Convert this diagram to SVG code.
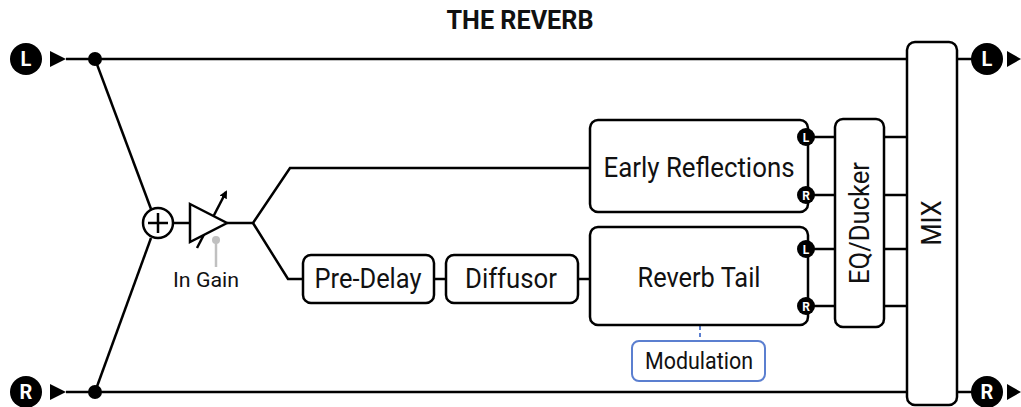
<svg xmlns="http://www.w3.org/2000/svg" width="1021" height="407" viewBox="0 0 1021 407">
<style>
.ln{stroke:#000;stroke-width:2.5;fill:none}
.box{stroke:#000;stroke-width:2.5;fill:#fff}
.t{font-family:Roboto,"Liberation Sans",sans-serif;fill:#111;text-anchor:middle}
.big{font-size:28px}
.badge{fill:#000}
.bl{font-family:Roboto,"Liberation Sans",sans-serif;font-weight:bold;fill:#fff;text-anchor:middle}
</style>
<defs>
<marker id="ah" markerWidth="8" markerHeight="8" refX="6" refY="4" orient="auto" markerUnits="userSpaceOnUse">
<path d="M0,0 L8,4 L0,8 z" fill="#000"/>
</marker>
</defs>
<rect width="1021" height="407" fill="#fff"/>
<text class="t" x="520" y="29" font-size="25" font-weight="bold" textLength="147" lengthAdjust="spacingAndGlyphs">THE REVERB</text>
<g id="connectors">
<path class="ln" d="M66,59 H907"/>
<path class="ln" d="M66,392 H907"/>
<path class="ln" d="M957,59 H972"/>
<path class="ln" d="M957,392 H972"/>
<path class="ln" d="M95,59 L151,209"/>
<path class="ln" d="M95,392 L151,238"/>
<path class="ln" d="M173,223 H190"/>
<path class="ln" d="M227,223 H253 L290,168 H590"/>
<path class="ln" d="M253,223 L288,279 H303"/>
<path class="ln" d="M434,279 H446"/>
<path class="ln" d="M578,279 H590"/>
<path class="ln" d="M806,137 H835 M806,195 H835 M806,249 H835 M806,306 H835"/>
<path class="ln" d="M884,137 H907 M884,195 H907 M884,249 H907 M884,306 H907"/>
<path d="M700,326 V341" stroke="#5b7fd0" stroke-width="2" stroke-dasharray="4,3" fill="none"/>
</g>
<g id="in-L">
<circle cx="26" cy="59" r="16" class="badge"/>
<text class="bl" x="26" y="66" font-size="20">L</text>
<path d="M50,51 L66,59 L50,67 z" fill="#000"/>
<circle cx="95" cy="59" r="7" fill="#000"/>
</g>
<g id="in-R">
<circle cx="26" cy="392" r="16" class="badge"/>
<text class="bl" x="26" y="399" font-size="20">R</text>
<path d="M50,384 L66,392 L50,400 z" fill="#000"/>
<circle cx="95" cy="392" r="7" fill="#000"/>
</g>
<g id="sum">
<circle cx="158" cy="223" r="15" class="box"/>
<path class="ln" d="M158,213 V233 M148,223 H168"/>
</g>
<g id="in-gain">
<path d="M216,240 V267" stroke="#c0c0c0" stroke-width="2.5"/>
<circle cx="216" cy="240" r="4" fill="#c0c0c0"/>
<path d="M197,248 L226,192" stroke="#000" stroke-width="2.5" marker-end="url(#ah)"/>
<path class="box" d="M190,204 L227,223 L190,242 z" stroke-linejoin="miter"/>
<text class="t" x="206" y="287" font-size="21" textLength="66" lengthAdjust="spacingAndGlyphs">In Gain</text>
</g>
<g id="early">
<rect class="box" x="590" y="120" width="218" height="92" rx="8"/>
<text class="t big" x="699" y="177" textLength="191" lengthAdjust="spacingAndGlyphs">Early Reflections</text>
<circle cx="806" cy="137" r="9" class="badge"/>
<text class="bl" x="806" y="141.5" font-size="12">L</text>
<circle cx="806" cy="195" r="9" class="badge"/>
<text class="bl" x="806" y="199.5" font-size="12">R</text>
</g>
<g id="predelay">
<rect class="box" x="303" y="255" width="131" height="48" rx="8"/>
<text class="t big" x="368" y="288" textLength="107" lengthAdjust="spacingAndGlyphs">Pre-Delay</text>
</g>
<g id="diffusor">
<rect class="box" x="446" y="255" width="132" height="48" rx="8"/>
<text class="t big" x="511" y="288" textLength="92" lengthAdjust="spacingAndGlyphs">Diffusor</text>
</g>
<g id="tail">
<rect class="box" x="590" y="227" width="218" height="98" rx="8"/>
<text class="t big" x="699" y="287" textLength="123" lengthAdjust="spacingAndGlyphs">Reverb Tail</text>
<circle cx="806" cy="249" r="9" class="badge"/>
<text class="bl" x="806" y="253.5" font-size="12">L</text>
<circle cx="806" cy="306" r="9" class="badge"/>
<text class="bl" x="806" y="310.5" font-size="12">R</text>
</g>
<g id="modulation">
<rect x="632" y="341" width="133" height="40" rx="7" fill="#fff" stroke="#5b7fd0" stroke-width="2"/>
<text class="t" x="699" y="369" font-size="23" textLength="108" lengthAdjust="spacingAndGlyphs">Modulation</text>
</g>
<g id="eq">
<rect class="box" x="835" y="119" width="49" height="208" rx="8"/>
<text class="t" transform="translate(869,223) rotate(-90)" font-size="27" textLength="122" lengthAdjust="spacingAndGlyphs">EQ/Ducker</text>
</g>
<g id="mix">
<rect class="box" x="907" y="42" width="50" height="363" rx="8"/>
<text class="t" transform="translate(941,223) rotate(-90)" font-size="27" textLength="45" lengthAdjust="spacingAndGlyphs">MIX</text>
</g>
<g id="out-L">
<circle cx="987" cy="59" r="16" class="badge"/>
<text class="bl" x="987" y="66" font-size="20">L</text>
<path d="M1007,51 L1021,59 L1007,67 z" fill="#000"/>
</g>
<g id="out-R">
<circle cx="987" cy="392" r="16" class="badge"/>
<text class="bl" x="987" y="399" font-size="20">R</text>
<path d="M1007,384 L1021,392 L1007,400 z" fill="#000"/>
</g>
</svg>
